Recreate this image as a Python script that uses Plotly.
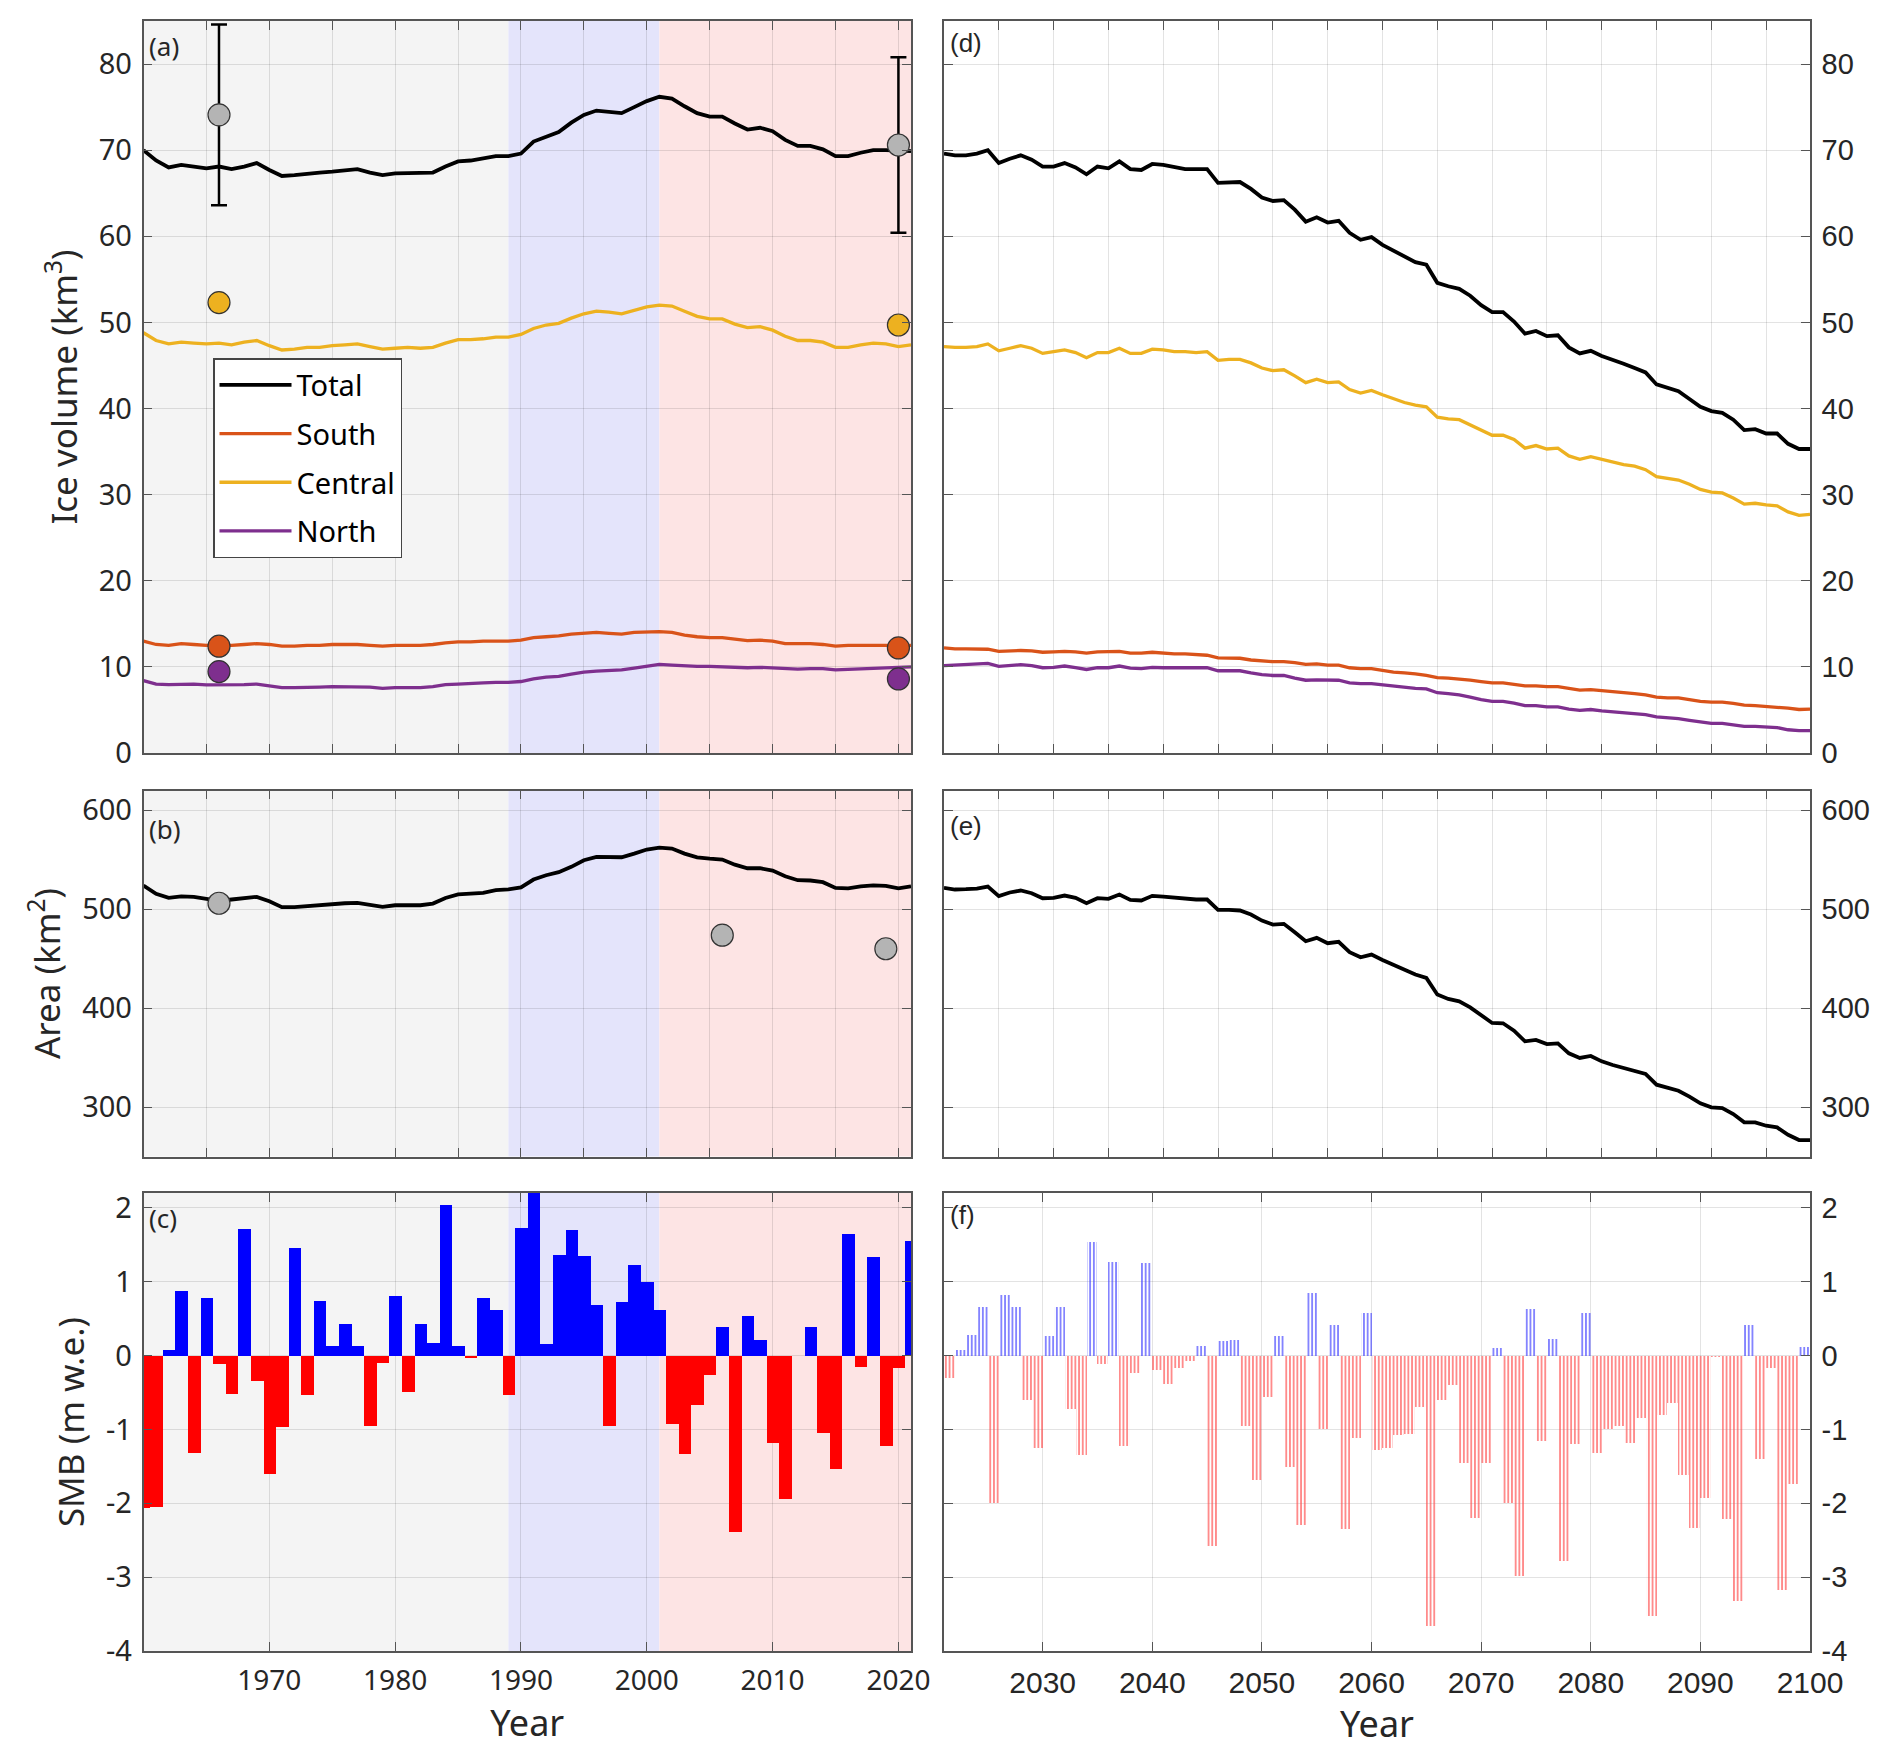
import plotly.graph_objects as go

# ---------------- data ----------------
years_hist = list(range(1960, 2022))
years_proj = list(range(2021, 2101))
years_smb_proj = list(range(2021, 2100))

total_hist = [70.0, 68.8, 68.0, 68.3, 68.1, 67.9, 68.1, 67.8, 68.1, 68.5,
              67.7, 67.0, 67.1, 67.3, 67.4, 67.5, 67.6, 67.8, 67.4, 67.1,
              67.3, 67.3, 67.3, 67.4, 68.1, 68.7, 68.8, 69.0, 69.3, 69.3,
              69.6, 71.0, 71.6, 72.1, 73.2, 74.1, 74.6, 74.4, 74.3, 75.0,
              75.7, 76.2, 76.0, 75.1, 74.3, 73.9, 73.9, 73.1, 72.4, 72.6,
              72.2, 71.2, 70.5, 70.5, 70.1, 69.3, 69.3, 69.7, 70.0, 70.0,
              69.9, 69.9]
central_hist = [48.8, 47.9, 47.5, 47.7, 47.6, 47.5, 47.6, 47.4, 47.7, 47.9,
                47.3, 46.8, 46.9, 47.1, 47.1, 47.3, 47.4, 47.5, 47.2, 46.9,
                47.0, 47.1, 47.0, 47.1, 47.6, 48.0, 48.0, 48.1, 48.3, 48.3,
                48.6, 49.3, 49.7, 49.9, 50.5, 51.0, 51.3, 51.2, 51.0, 51.4,
                51.8, 52.0, 51.9, 51.3, 50.7, 50.4, 50.4, 49.8, 49.4, 49.5,
                49.1, 48.4, 47.9, 47.9, 47.7, 47.1, 47.1, 47.4, 47.6, 47.5,
                47.2, 47.4]
south_hist = [13.0, 12.6, 12.5, 12.7, 12.6, 12.5, 12.5, 12.5, 12.6, 12.7,
              12.6, 12.4, 12.4, 12.5, 12.5, 12.6, 12.6, 12.6, 12.5, 12.4,
              12.5, 12.5, 12.5, 12.6, 12.8, 12.9, 12.9, 13.0, 13.0, 13.0,
              13.1, 13.4, 13.5, 13.6, 13.8, 13.9, 14.0, 13.9, 13.8, 14.0,
              14.05, 14.1, 14.0, 13.7, 13.5, 13.4, 13.4, 13.2, 13.05, 13.1,
              13.0, 12.7, 12.7, 12.7, 12.6, 12.4, 12.5, 12.5, 12.5, 12.5,
              12.4, 12.5]
north_hist = [8.4, 8.0, 7.95, 8.0, 8.0, 7.9, 7.9, 7.9, 7.95, 8.0,
              7.8, 7.6, 7.6, 7.6, 7.65, 7.7, 7.7, 7.7, 7.65, 7.5,
              7.6, 7.6, 7.6, 7.7, 7.95, 8.0, 8.1, 8.15, 8.2, 8.2,
              8.3, 8.6, 8.8, 8.9, 9.15, 9.4, 9.5, 9.6, 9.65, 9.85,
              10.1, 10.3, 10.2, 10.1, 10.05, 10.05, 10.0, 10.0, 9.9, 9.95,
              9.9, 9.8, 9.75, 9.8, 9.8, 9.65, 9.7, 9.75, 9.85, 9.9,
              9.95, 10.0]
area_hist = [524, 515.5, 511.4, 513, 512.5, 510.4, 508.4, 509.8, 511, 512.5,
             508, 502, 502, 503, 503.7, 505.4, 506, 506.4, 504.7, 502.4,
             504, 504, 504, 505.7, 511.4, 515, 515.5, 516.5, 519.2, 520,
             522, 530, 534.3, 537.4, 542.8, 549.5, 552.9, 552.9, 552.5, 556.2,
             560.3, 562.3, 561.3, 556.2, 552.5, 551.2, 550.2, 545, 541.4, 541.4,
             539, 533.3, 529.3, 529, 527.3, 521.5, 521, 523, 524, 523.6,
             521, 523.2]
smb_hist = [-2.07, -2.05, 0.07, 0.88, -1.32, 0.78, -0.12, -0.52, 1.71, -0.34,
            -1.61, -0.97, 1.45, -0.54, 0.74, 0.13, 0.43, 0.13, -0.96, -0.10,
            0.80, -0.50, 0.42, 0.17, 2.04, 0.13, -0.04, 0.78, 0.62, -0.54,
            1.72, 2.30, 0.15, 1.36, 1.70, 1.35, 0.68, -0.96, 0.73, 1.23,
            0.99, 0.61, -0.93, -1.33, -0.67, -0.26, 0.39, -2.39, 0.53, 0.21,
            -1.19, -1.94, 0.0, 0.38, -1.05, -1.53, 1.64, -0.16, 1.34, -1.23,
            -0.17, 1.55]

total_proj = [69.6, 69.4, 69.4, 69.6, 70.0, 68.5, 69.0, 69.4, 68.9, 68.1,
              68.1, 68.5, 68.0, 67.2, 68.1, 67.9, 68.7, 67.8, 67.7, 68.4,
              68.3, 68.1, 67.8, 67.8, 67.8, 66.2, 66.2, 66.3, 65.5, 64.5,
              64.1, 64.2, 63.1, 61.7, 62.2, 61.6, 61.8, 60.4, 59.6, 59.9,
              59.0, 58.3, 57.6, 57.0, 56.7, 54.6, 54.2, 53.9, 53.1, 52.0,
              51.2, 51.2, 50.1, 48.7, 49.0, 48.4, 48.5, 47.1, 46.4, 46.7,
              46.1, 45.7, 45.2, 44.7, 44.2, 42.8, 42.4, 42.0, 41.1, 40.2,
              39.7, 39.5, 38.7, 37.5, 37.6, 37.1, 37.1, 35.9, 35.3, 35.3]
central_proj = [47.2, 47.1, 47.1, 47.2, 47.5, 46.7, 47.0, 47.3, 47.0, 46.4,
                46.6, 46.8, 46.5, 45.9, 46.5, 46.5, 47.0, 46.4, 46.4, 46.9,
                46.8, 46.6, 46.6, 46.5, 46.6, 45.6, 45.7, 45.7, 45.3, 44.7,
                44.4, 44.5, 43.8, 43.0, 43.4, 43.0, 43.1, 42.2, 41.8, 42.1,
                41.6, 41.1, 40.7, 40.4, 40.2, 39.0, 38.8, 38.7, 38.1, 37.4,
                36.9, 36.9, 36.4, 35.4, 35.7, 35.3, 35.4, 34.5, 34.1, 34.4,
                34.1, 33.8, 33.5, 33.3, 32.9, 32.1, 31.9, 31.7, 31.2, 30.6,
                30.3, 30.2, 29.6, 28.9, 29.0, 28.8, 28.7, 28.0, 27.6, 27.7]
south_proj = [12.2, 12.1, 12.1, 12.1, 12.05, 11.8, 11.85, 11.9, 11.85, 11.7,
              11.75, 11.8, 11.75, 11.6, 11.75, 11.75, 11.8, 11.6, 11.6, 11.7,
              11.6, 11.5, 11.5, 11.4, 11.35, 11.05, 11.0, 11.0, 10.8, 10.7,
              10.6, 10.6, 10.5, 10.3, 10.35, 10.2, 10.2, 9.9, 9.8, 9.8,
              9.6, 9.4, 9.3, 9.2, 9.0, 8.75, 8.7, 8.6, 8.45, 8.3,
              8.15, 8.15, 8.0, 7.8, 7.8, 7.7, 7.7, 7.5, 7.3, 7.35,
              7.25, 7.1, 7.0, 6.9, 6.75, 6.5, 6.4, 6.4, 6.2, 6.0,
              5.9, 5.9, 5.75, 5.55, 5.5, 5.4, 5.35, 5.2, 5.05, 5.1]
north_proj = [10.15, 10.2, 10.25, 10.3, 10.4, 10.05, 10.15, 10.25, 10.15, 9.9,
              9.95, 10.1, 9.9, 9.7, 9.9, 9.9, 10.1, 9.85, 9.8, 9.95,
              9.9, 9.9, 9.9, 9.9, 9.9, 9.55, 9.55, 9.55, 9.3, 9.1,
              9.0, 9.0, 8.7, 8.45, 8.5, 8.45, 8.45, 8.15, 8.05, 8.05,
              7.9, 7.75, 7.6, 7.5, 7.45, 7.0, 6.9, 6.75, 6.5, 6.2,
              6.0, 6.0, 5.8, 5.5, 5.5, 5.35, 5.35, 5.1, 4.95, 5.05,
              4.9, 4.8, 4.7, 4.6, 4.45, 4.2, 4.1, 4.0, 3.8, 3.6,
              3.45, 3.45, 3.3, 3.1, 3.1, 3.0, 2.95, 2.7, 2.6, 2.6]
area_proj = [521.6, 519.9, 520.2, 520.9, 522.9, 513.2, 516.9, 518.9, 516.2, 511.1,
             511.5, 513.8, 511.5, 506.1, 511.1, 510.5, 514.8, 509.4, 508.8, 513.5,
             512.8, 511.5, 510.5, 509.8, 509.8, 499.3, 499.3, 498.7, 494.6, 488.5,
             484.5, 485.2, 476.7, 467.6, 471.0, 465.6, 467.0, 456.5, 451.4, 454.1,
             448.7, 444.0, 438.6, 433.9, 430.5, 413.7, 409.3, 406.9, 400.8, 392.4,
             385.0, 384.7, 377.2, 366.4, 367.8, 363.7, 364.4, 354.3, 349.6, 351.6,
             346.2, 342.5, 339.5, 336.1, 333.4, 322.6, 319.9, 316.5, 310.5, 303.7,
             299.7, 299.0, 292.9, 284.5, 284.5, 281.1, 279.4, 272.0, 266.6, 266.6]
smb_proj = [-0.30, 0.08, 0.28, 0.66, -2.00, 0.82, 0.66, -0.60, -1.25, 0.26,
            0.66, -0.73, -1.34, 1.53, -0.12, 1.26, -1.23, -0.24, 1.25, -0.20,
            -0.39, -0.17, -0.07, 0.13, -2.58, 0.20, 0.21, -0.96, -1.68, -0.56,
            0.27, -1.51, -2.30, 0.85, -1.00, 0.41, -2.35, -1.12, 0.58, -1.28,
            -1.25, -1.07, -1.06, -0.70, -3.66, -0.60, -0.40, -1.46, -2.20, -1.45,
            0.10, -2.00, -2.98, 0.63, -1.16, 0.22, -2.78, -1.20, 0.57, -1.32,
            -1.00, -0.96, -1.19, -0.84, -3.52, -0.80, -0.64, -1.62, -2.33, -1.93,
            -0.02, -2.21, -3.32, 0.41, -1.40, -0.17, -3.17, -1.74, 0.12]

# observations
obs_years_vol = [1966, 2020]
obs_total = [74.1, 70.6]
obs_total_err = [10.5, 10.2]
obs_central = [52.3, 49.7]
obs_south = [12.4, 12.2]
obs_north = [9.45, 8.6]
obs_years_area = [1966, 2006, 2019]
obs_area = [506, 473.7, 460]

# periods shading
period_edges = [1960, 1989, 2001, 2021]
period_colors = ["#f4f4f4", "#e4e4fb", "#fde4e4"]

series_names = ["Total", "South", "Central", "North"]
series_colors = ["#000000", "#D95319", "#EDB120", "#7E2F8E"]

# ---------------- figure ----------------
W, H = 1892, 1756
OFF = 8  # page body margin of the browser
FW, FH = W - OFF, H - OFF
FONT = "Noto Sans"
FONT_R = "Liberation Sans"
TXT = "#262626"
AX = "#555555"
GRID = "rgba(0,0,0,0.11)"


def px_x(a, b):
    return [(a - OFF) / FW, (b - OFF) / FW]


def px_y(top, bottom):
    return [1 - (bottom - OFF) / FH, 1 - (top - OFF) / FH]


LEFT = px_x(143.5, 911)
RIGHT = px_x(944, 1810)
ROW_A = px_y(21, 753)
ROW_B = px_y(790.5, 1156.5)
ROW_C = px_y(1193, 1651)

fig = go.Figure()

hist_vals = [total_hist, south_hist, central_hist, north_hist]
proj_vals = [total_proj, south_proj, central_proj, north_proj]
widths = [3.8, 3.3, 3.3, 3.3]

for i, name in enumerate(series_names):
    fig.add_trace(go.Scatter(x=years_hist, y=hist_vals[i], mode="lines", name=name,
                             line=dict(color=series_colors[i], width=widths[i]),
                             legendgroup=name, showlegend=True, xaxis="x", yaxis="y"))
    fig.add_trace(go.Scatter(x=years_proj, y=proj_vals[i], mode="lines", name=name,
                             line=dict(color=series_colors[i], width=widths[i]),
                             showlegend=False, xaxis="x4", yaxis="y4"))

mk_line = dict(color="#333333", width=1.2)
fig.add_trace(go.Scatter(x=obs_years_vol, y=obs_total, mode="markers", showlegend=False,
                         marker=dict(size=22, color="#b4b4b4", line=mk_line),
                         error_y=dict(type="data", array=obs_total_err, color="black",
                                      thickness=2.5, width=8),
                         xaxis="x", yaxis="y"))
fig.add_trace(go.Scatter(x=obs_years_vol, y=obs_central, mode="markers", showlegend=False,
                         marker=dict(size=22, color=series_colors[2], line=mk_line),
                         xaxis="x", yaxis="y"))
fig.add_trace(go.Scatter(x=obs_years_vol, y=obs_south, mode="markers", showlegend=False,
                         marker=dict(size=22, color=series_colors[1], line=mk_line),
                         xaxis="x", yaxis="y"))
fig.add_trace(go.Scatter(x=obs_years_vol, y=obs_north, mode="markers", showlegend=False,
                         marker=dict(size=22, color=series_colors[3], line=mk_line),
                         xaxis="x", yaxis="y"))

# area
fig.add_trace(go.Scatter(x=years_hist, y=area_hist, mode="lines", showlegend=False,
                         line=dict(color="black", width=3.8), xaxis="x2", yaxis="y2"))
fig.add_trace(go.Scatter(x=obs_years_area, y=obs_area, mode="markers", showlegend=False,
                         marker=dict(size=22, color="#b4b4b4", line=mk_line),
                         xaxis="x2", yaxis="y2"))
fig.add_trace(go.Scatter(x=years_proj, y=area_proj, mode="lines", showlegend=False,
                         line=dict(color="black", width=3.8), xaxis="x5", yaxis="y5"))

# SMB bars
hist_colors = ["#0000ff" if v >= 0 else "#ff0000" for v in smb_hist]
fig.add_trace(go.Bar(x=years_hist, y=smb_hist, width=1, showlegend=False,
                     marker=dict(color=hist_colors, line=dict(width=0)),
                     xaxis="x3", yaxis="y3"))
proj_fg = ["rgba(70,70,255,0.75)" if v >= 0 else "rgba(255,70,70,0.7)" for v in smb_proj]
fig.add_trace(go.Bar(x=years_smb_proj, y=smb_proj, width=1, offset=0, showlegend=False,
                     marker=dict(color=proj_fg, line=dict(width=0),
                                 pattern=dict(shape="|", size=3.7, solidity=0.45,
                                              fgcolor=proj_fg, bgcolor="rgba(255,255,255,0)",
                                              fillmode="replace")),
                     xaxis="x6", yaxis="y6"))

# ---------------- axes ----------------
common = dict(showline=True, linecolor=AX, linewidth=1.5, mirror="ticks", ticks="inside",
              ticklen=9, tickwidth=1.3, tickcolor=AX, gridcolor=GRID, gridwidth=1.3,
              zeroline=False, automargin=False)

five_left = list(range(1965, 2021, 5))
ten_left = list(range(1970, 2021, 10))
five_right = list(range(2026, 2100, 5))
ten_right = list(range(2030, 2101, 10))


def xaxis(domain, anchor, rng, tickvals, labels, font, fsize, title=None):
    d = dict(common, domain=domain, anchor=anchor, range=rng, tickmode="array",
             tickvals=tickvals, showticklabels=labels,
             tickfont=dict(family=font, size=fsize, color=TXT))
    if labels:
        d["ticktext"] = [str(v) for v in tickvals]
        d["ticklabelstandoff"] = 4
    if title:
        d["title"] = dict(text=title, font=dict(family=FONT, size=36, color=TXT), standoff=3)
    return d


def yaxis(domain, anchor, rng, tickvals, side, font, title=None):
    d = dict(common, domain=domain, anchor=anchor, range=rng, tickmode="array",
             tickvals=tickvals, ticktext=[str(v) for v in tickvals], side=side,
             tickfont=dict(family=font, size=29, color=TXT), ticklabelstandoff=4)
    if title:
        d["title"] = dict(text=title, font=dict(family=FONT, size=35, color=TXT), standoff=11)
    return d


vol_ticks = list(range(0, 81, 10))
area_ticks = [300, 400, 500, 600]
smb_ticks = [-4, -3, -2, -1, 0, 1, 2]

fig.update_layout(
    xaxis=xaxis(LEFT, "y", [1960, 2021], five_left, False, FONT, 28),
    yaxis=yaxis(ROW_A, "x", [0, 85], vol_ticks, "left", FONT, "Ice volume (km<sup>3</sup>)"),
    xaxis2=xaxis(LEFT, "y2", [1960, 2021], five_left, False, FONT, 28),
    yaxis2=yaxis(ROW_B, "x2", [250, 620], area_ticks, "left", FONT, "Area (km<sup>2</sup>)"),
    xaxis3=xaxis(LEFT, "y3", [1960, 2021], ten_left, True, FONT, 28, "Year"),
    yaxis3=yaxis(ROW_C, "x3", [-4, 2.2], smb_ticks, "left", FONT, "SMB (m w.e.)"),
    xaxis4=xaxis(RIGHT, "y4", [2021, 2100], five_right, False, FONT_R, 30),
    yaxis4=yaxis(ROW_A, "x4", [0, 85], vol_ticks, "right", FONT_R),
    xaxis5=xaxis(RIGHT, "y5", [2021, 2100], five_right, False, FONT_R, 30),
    yaxis5=yaxis(ROW_B, "x5", [250, 620], area_ticks, "right", FONT_R),
    xaxis6=xaxis(RIGHT, "y6", [2021, 2100], ten_right, True, FONT_R, 30, "Year"),
    yaxis6=yaxis(ROW_C, "x6", [-4, 2.2], smb_ticks, "right", FONT_R),
)

# shading of periods on left panels
shapes = []
for xr, yr in [("x", "y"), ("x2", "y2"), ("x3", "y3")]:
    for k, col in enumerate(period_colors):
        shapes.append(dict(type="rect", xref=xr, yref=yr + " domain",
                           x0=period_edges[k], x1=period_edges[k + 1], y0=0, y1=1,
                           fillcolor=col, line=dict(width=0), layer="below"))

# panel labels
labels = ["(a)", "(b)", "(c)", "(d)", "(e)", "(f)"]
label_drop = [0, 14, 0, 0, 14, 0]
annotations = []
for k, lab in enumerate(labels):
    ax_id = "" if k == 0 else str(k + 1)
    annotations.append(dict(text=lab, xref="x" + ax_id + " domain", yref="y" + ax_id + " domain",
                            x=0.005, y=1, xanchor="left", yanchor="top",
                            yshift=-5 - label_drop[k],
                            showarrow=False,
                            font=dict(family=FONT if k < 3 else FONT_R, size=26, color=TXT)))

fig.update_layout(
    width=FW, height=FH,
    margin=dict(l=0, r=0, t=0, b=0, autoexpand=False),
    paper_bgcolor="white", plot_bgcolor="white",
    font=dict(family=FONT, color=TXT),
    shapes=shapes, annotations=annotations,
    bargap=0, barmode="overlay",
    legend=dict(x=(213 - OFF) / FW, y=1 - (358 - OFF) / FH, xanchor="left", yanchor="top",
                bgcolor="white", bordercolor="#444444", borderwidth=1.5,
                font=dict(family=FONT, size=29, color="black"),
                traceorder="grouped", tracegroupgap=8, itemwidth=72),
)

fig.write_html("out.html")
